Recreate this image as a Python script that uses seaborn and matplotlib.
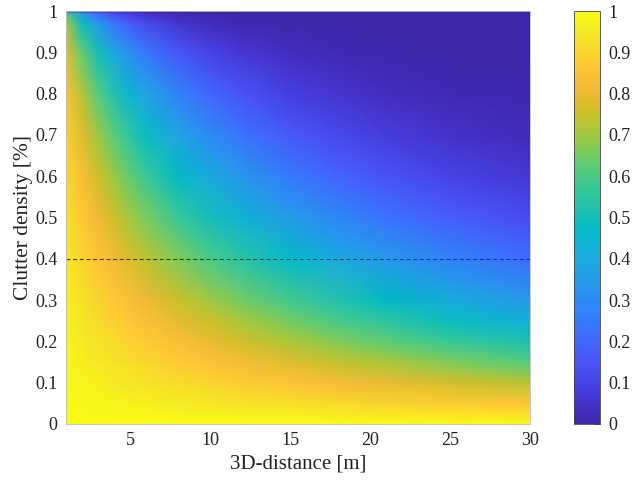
import numpy as np
import matplotlib
matplotlib.use("Agg")
import matplotlib.pyplot as plt
import seaborn as sns
from matplotlib.colors import LinearSegmentedColormap

# ---------------- data ----------------
distances = [1, 2, 3, 4, 5, 6, 8, 10, 12, 15, 18, 21, 25, 30]
densities = [0.0, 0.05, 0.1, 0.15, 0.2, 0.25, 0.3, 0.4, 0.5, 0.6, 0.7,
             0.8, 0.9, 0.97, 0.995, 1.0]
# rows: densities, columns: distances
los_probability = [
    [1.000, 1.000, 1.000, 1.000, 1.000, 1.000, 1.000, 1.000, 1.000, 1.000, 1.000, 1.000, 1.000, 1.000],
    [0.995, 0.990, 0.985, 0.980, 0.975, 0.970, 0.960, 0.950, 0.940, 0.926, 0.912, 0.898, 0.880, 0.857],
    [0.990, 0.979, 0.969, 0.959, 0.949, 0.939, 0.919, 0.900, 0.881, 0.854, 0.827, 0.802, 0.768, 0.729],
    [0.984, 0.968, 0.952, 0.937, 0.922, 0.907, 0.878, 0.850, 0.823, 0.784, 0.746, 0.711, 0.666, 0.614],
    [0.978, 0.956, 0.935, 0.915, 0.894, 0.875, 0.837, 0.800, 0.765, 0.716, 0.669, 0.626, 0.572, 0.512],
    [0.972, 0.944, 0.917, 0.891, 0.866, 0.841, 0.794, 0.750, 0.708, 0.650, 0.596, 0.547, 0.487, 0.422],
    [0.965, 0.931, 0.899, 0.867, 0.837, 0.807, 0.752, 0.700, 0.652, 0.586, 0.526, 0.473, 0.410, 0.343],
    [0.950, 0.903, 0.858, 0.815, 0.775, 0.736, 0.665, 0.600, 0.542, 0.465, 0.399, 0.342, 0.279, 0.216],
    [0.933, 0.871, 0.812, 0.758, 0.707, 0.660, 0.574, 0.500, 0.435, 0.354, 0.287, 0.233, 0.177, 0.125],
    [0.912, 0.833, 0.760, 0.693, 0.632, 0.577, 0.480, 0.400, 0.333, 0.253, 0.192, 0.146, 0.101, 0.064],
    [0.887, 0.786, 0.697, 0.618, 0.548, 0.486, 0.382, 0.300, 0.236, 0.164, 0.115, 0.080, 0.049, 0.027],
    [0.851, 0.725, 0.617, 0.525, 0.447, 0.381, 0.276, 0.200, 0.145, 0.089, 0.055, 0.034, 0.018, 0.008],
    [0.794, 0.631, 0.501, 0.398, 0.316, 0.251, 0.158, 0.100, 0.063, 0.032, 0.016, 0.008, 0.003, 0.001],
    [0.704, 0.496, 0.349, 0.246, 0.173, 0.122, 0.060, 0.030, 0.015, 0.005, 0.002, 0.001, 0.000, 0.000],
    [0.589, 0.347, 0.204, 0.120, 0.071, 0.042, 0.014, 0.005, 0.002, 0.000, 0.000, 0.000, 0.000, 0.000],
    [0.000, 0.000, 0.000, 0.000, 0.000, 0.000, 0.000, 0.000, 0.000, 0.000, 0.000, 0.000, 0.000, 0.000],
]
threshold_density = 0.4
x_ticks = [5, 10, 15, 20, 25, 30]
y_ticks = [0, 0.1, 0.2, 0.3, 0.4, 0.5, 0.6, 0.7, 0.8, 0.9, 1]
cbar_ticks = [0, 0.1, 0.2, 0.3, 0.4, 0.5, 0.6, 0.7, 0.8, 0.9, 1]
x_label = "3D-distance [m]"
y_label = "Clutter density [%]"

# ---------------- parula-like colormap ----------------
parula_anchors = [
    (0.2422, 0.1504, 0.6603), (0.2647, 0.1978, 0.7952), (0.2783, 0.2559, 0.8991),
    (0.2810, 0.3228, 0.9579), (0.2699, 0.3892, 0.9906), (0.2206, 0.4603, 0.9973),
    (0.1786, 0.5289, 0.9682), (0.1540, 0.5902, 0.9218), (0.1248, 0.6459, 0.8883),
    (0.0689, 0.6948, 0.8394), (0.0067, 0.7312, 0.7660), (0.1408, 0.7584, 0.6842),
    (0.2161, 0.7843, 0.5923), (0.3406, 0.8008, 0.4789), (0.5044, 0.7993, 0.3480),
    (0.6720, 0.7793, 0.2227), (0.8203, 0.7498, 0.1535), (0.9393, 0.7288, 0.2100),
    (0.9970, 0.7659, 0.2199), (0.9786, 0.8386, 0.1766), (0.9597, 0.9135, 0.1423),
    (0.9769, 0.9839, 0.0805),
]
parula = LinearSegmentedColormap.from_list("parula", parula_anchors, N=256)

# ---------------- figure ----------------
sns.set_theme(style="white")
plt.rcParams["font.family"] = ["Liberation Serif", "DejaVu Serif"]
plt.rcParams["mathtext.fontset"] = "stix"

W, H = 633, 482
fig = plt.figure(figsize=(W / 100, H / 100), dpi=100)
ax = fig.add_axes([66 / W, 1 - 424 / H, (530 - 66) / W, (424 - 11) / H])
cax = fig.add_axes([574 / W, 1 - 424 / H, 26 / W, 413 / H])

X, Y = np.meshgrid(np.array(distances, float), np.array(densities, float))
Z = np.array(los_probability, float)
mesh = ax.pcolormesh(X, Y, Z, cmap=parula, vmin=0, vmax=1,
                     shading="gouraud", rasterized=True)

sns.lineplot(x=[distances[0], distances[-1]],
             y=[threshold_density, threshold_density],
             ax=ax, color="#333333", linewidth=0.8,
             linestyle=(0, (3.5, 2.5)))

ax.set_xlim(distances[0], distances[-1])
ax.set_ylim(0, 1)
ax.set_xticks(x_ticks)
ax.set_yticks(y_ticks)
ax.set_xticklabels([f"{t:g}" for t in x_ticks])
ax.set_yticklabels([f"{t:g}" for t in y_ticks])
ax.tick_params(axis="both", length=0, pad=6, labelsize=13, colors="#222222")
ax.set_xlabel(x_label, fontsize=15, color="#222222", labelpad=4)
ax.set_ylabel(y_label, fontsize=15.5, color="#222222", labelpad=1.5)
for s in ax.spines.values():
    s.set_visible(True)
    s.set_color("#bbbbbb")
    s.set_linewidth(0.6)

cb = fig.colorbar(mesh, cax=cax)
cb.set_ticks(cbar_ticks)
cb.set_ticklabels([f"{t:g}" for t in cbar_ticks])
cb.ax.tick_params(direction="in", length=4, width=0.6, pad=6,
                  labelsize=13, colors="#222222")
cb.outline.set_edgecolor("#444444")
cb.outline.set_linewidth(0.6)

fig.savefig("out.png", dpi=100)
